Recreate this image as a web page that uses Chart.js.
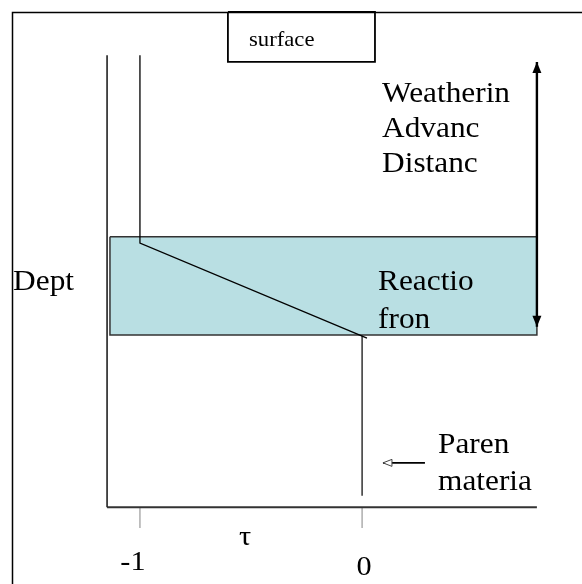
<!DOCTYPE html>
<html>
<head>
<meta charset="utf-8">
<script src="https://cdn.jsdelivr.net/npm/chart.js@4.4.1/dist/chart.umd.min.js"></script>
<style>
html, body { margin: 0; padding: 0; background: #ffffff; }
#wrap { position: relative; width: 582px; height: 584px; }
</style>
</head>
<body>
<div id="wrap"><canvas id="diagram"></canvas></div>
<script>
/**
 * Weathering profile sketch — τ on x, depth (downward) on y
 */

// τ axis ticks
const tauTicks      = [-1, 0];
const tauTickLabels = ['-1', '0'];

// τ profile: unweathered above the front (-1), parent below (0)
const profileTau   = [-1, -1, 0.022];
const profileDepth = [0, 4.16, 6.26];
const parentTau    = [0, 0];
const parentDepth  = [6.21, 9.75];

// reaction front band
const frontTau   = [-1.135, 0.787];
const frontDepth = [4.02, 6.19];

// plot frame axes
const axisTau   = [-1.148, 0.787];
const axisDepth = [0, 10];
const tickDepth = [10, 10.46];

// weathering advance arrow (both ends) and parent arrow
const advanceTau       = [0.787, 0.787];
const advanceDepth     = [0.15, 6.01];
const parentArrowTau   = [0.283, 0.094];
const parentArrowDepth = [9.02, 9.02];

// surface box
const surfaceTau   = [-0.604, 0.058];
const surfaceDepth = [-0.955, 0.15];

// text labels
const labelTexts = ['surface', 'Weatherin', 'Advanc', 'Distanc', 'Reactio', 'fron', 'Dept', 'Paren', 'materia'];
const axisTitle  = 'τ';

const SERIF = '"Liberation Serif", "Times New Roman", serif';
const STRETCH = 1.08;

// anchor of each label (left edge, baseline) in τ / depth units
const labelAnchors = [
    { x: -0.509, y: -0.20, size: 21 },
    { x: 0.090,  y: 1.04,  size: 29 },
    { x: 0.090,  y: 1.81,  size: 29 },
    { x: 0.090,  y: 2.59,  size: 29 },
    { x: 0.072,  y: 5.20,  size: 29 },
    { x: 0.072,  y: 6.04,  size: 29 },
    { x: -1.571, y: 5.20,  size: 29 },
    { x: 0.342,  y: 8.80,  size: 29 },
    { x: 0.342,  y: 9.62,  size: 29 }
];

function pts(xs, ys) {
    return xs.map((x, i) => ({ x: x, y: ys[i] }));
}

function lineSet(data, color, width, order) {
    return {
        data: data,
        showLine: true,
        borderColor: color,
        borderWidth: width,
        pointRadius: 0,
        fill: false,
        tension: 0,
        order: order || 0
    };
}

function drawText(ctx, text, px, py, size, align) {
    ctx.save();
    ctx.translate(px, py);
    ctx.scale(STRETCH, 1);
    ctx.font = size + 'px ' + SERIF;
    ctx.fillStyle = '#000';
    ctx.textAlign = align || 'left';
    ctx.textBaseline = 'alphabetic';
    ctx.fillText(text, 0, 0);
    ctx.restore();
}

function arrowHead(ctx, tipX, tipY, dirX, dirY, len, half, fill, stroke) {
    const bx = tipX - dirX * len, by = tipY - dirY * len;
    const nx = -dirY, ny = dirX;
    ctx.beginPath();
    ctx.moveTo(tipX, tipY);
    ctx.lineTo(bx + nx * half, by + ny * half);
    ctx.lineTo(bx - nx * half, by - ny * half);
    ctx.closePath();
    if (fill) { ctx.fillStyle = fill; ctx.fill(); }
    if (stroke) { ctx.strokeStyle = stroke; ctx.lineWidth = 1; ctx.stroke(); }
}

const sketchPlugin = {
    id: 'sketch',
    beforeDraw(chart) {
        const ctx = chart.ctx;
        ctx.save();
        ctx.fillStyle = '#ffffff';
        ctx.fillRect(0, 0, chart.width, chart.height);
        ctx.strokeStyle = '#000';
        ctx.lineWidth = 1.5;
        ctx.strokeRect(12.5, 12.5, 640, 640);
        ctx.restore();
    },
    afterDatasetsDraw(chart) {
        const ctx = chart.ctx;
        const x = chart.scales.x, y = chart.scales.y;

        // arrow heads
        const ax = x.getPixelForValue(advanceTau[0]);
        arrowHead(ctx, ax, y.getPixelForValue(advanceDepth[0]), 0, -1, 11, 4.5, '#000');
        arrowHead(ctx, ax, y.getPixelForValue(advanceDepth[1]), 0, 1, 11, 4.5, '#000');
        arrowHead(ctx, x.getPixelForValue(parentArrowTau[1]), y.getPixelForValue(parentArrowDepth[1]),
            -1, 0, 9, 3.5, '#ffffff', '#444');

        // labels
        labelTexts.forEach((t, i) => {
            const a = labelAnchors[i];
            drawText(ctx, t, x.getPixelForValue(a.x), y.getPixelForValue(a.y), a.size, 'left');
        });

        // τ tick labels and title
        const nudge = [-7, 2];
        const base  = [11.39, 11.50];
        tauTicks.forEach((v, i) => {
            drawText(ctx, tauTickLabels[i], x.getPixelForValue(v) + nudge[i], y.getPixelForValue(base[i]), 28, 'center');
        });
        drawText(ctx, axisTitle, x.getPixelForValue(-0.527), y.getPixelForValue(10.84), 28, 'center');
    }
};

const frontCorners = pts(
    [frontTau[0], frontTau[1], frontTau[1], frontTau[0], frontTau[0]],
    [frontDepth[0], frontDepth[0], frontDepth[1], frontDepth[1], frontDepth[0]]
);
const surfaceCorners = pts(
    [surfaceTau[0], surfaceTau[1], surfaceTau[1], surfaceTau[0], surfaceTau[0]],
    [surfaceDepth[0], surfaceDepth[0], surfaceDepth[1], surfaceDepth[1], surfaceDepth[0]]
);

const frontSet = lineSet(frontCorners, '#333333', 1.5, 10);
frontSet.fill = 'shape';
frontSet.backgroundColor = '#b9dfe3';

const datasets = [
    frontSet,
    lineSet(pts(profileTau, profileDepth), '#000', 1.3),
    lineSet(pts(parentTau, parentDepth), '#000', 1.2),
    lineSet(pts([axisTau[0], axisTau[0]], axisDepth), '#222', 1.6),
    lineSet(pts(axisTau, [axisDepth[1], axisDepth[1]]), '#333', 2),
    lineSet(pts(advanceTau, advanceDepth), '#000', 2.4),
    lineSet(pts(parentArrowTau, parentArrowDepth), '#000', 1.6),
    lineSet(surfaceCorners, '#000', 1.8)
];
tauTicks.forEach(v => {
    datasets.push(lineSet(pts([v, v], tickDepth), '#999999', 1.2));
});

new Chart(document.getElementById('diagram'), {
    type: 'scatter',
    data: { datasets: datasets },
    options: {
        responsive: true,
        maintainAspectRatio: false,
        animation: false,
        layout: { padding: 0 },
        plugins: {
            legend: { display: false },
            tooltip: { enabled: false }
        },
        scales: {
            x: { type: 'linear', display: false, min: -1.63, max: 0.99 },
            y: { type: 'linear', display: false, reverse: true, min: -1.22, max: 11.70 }
        }
    },
    plugins: [sketchPlugin]
});
</script>
</body>
</html>
